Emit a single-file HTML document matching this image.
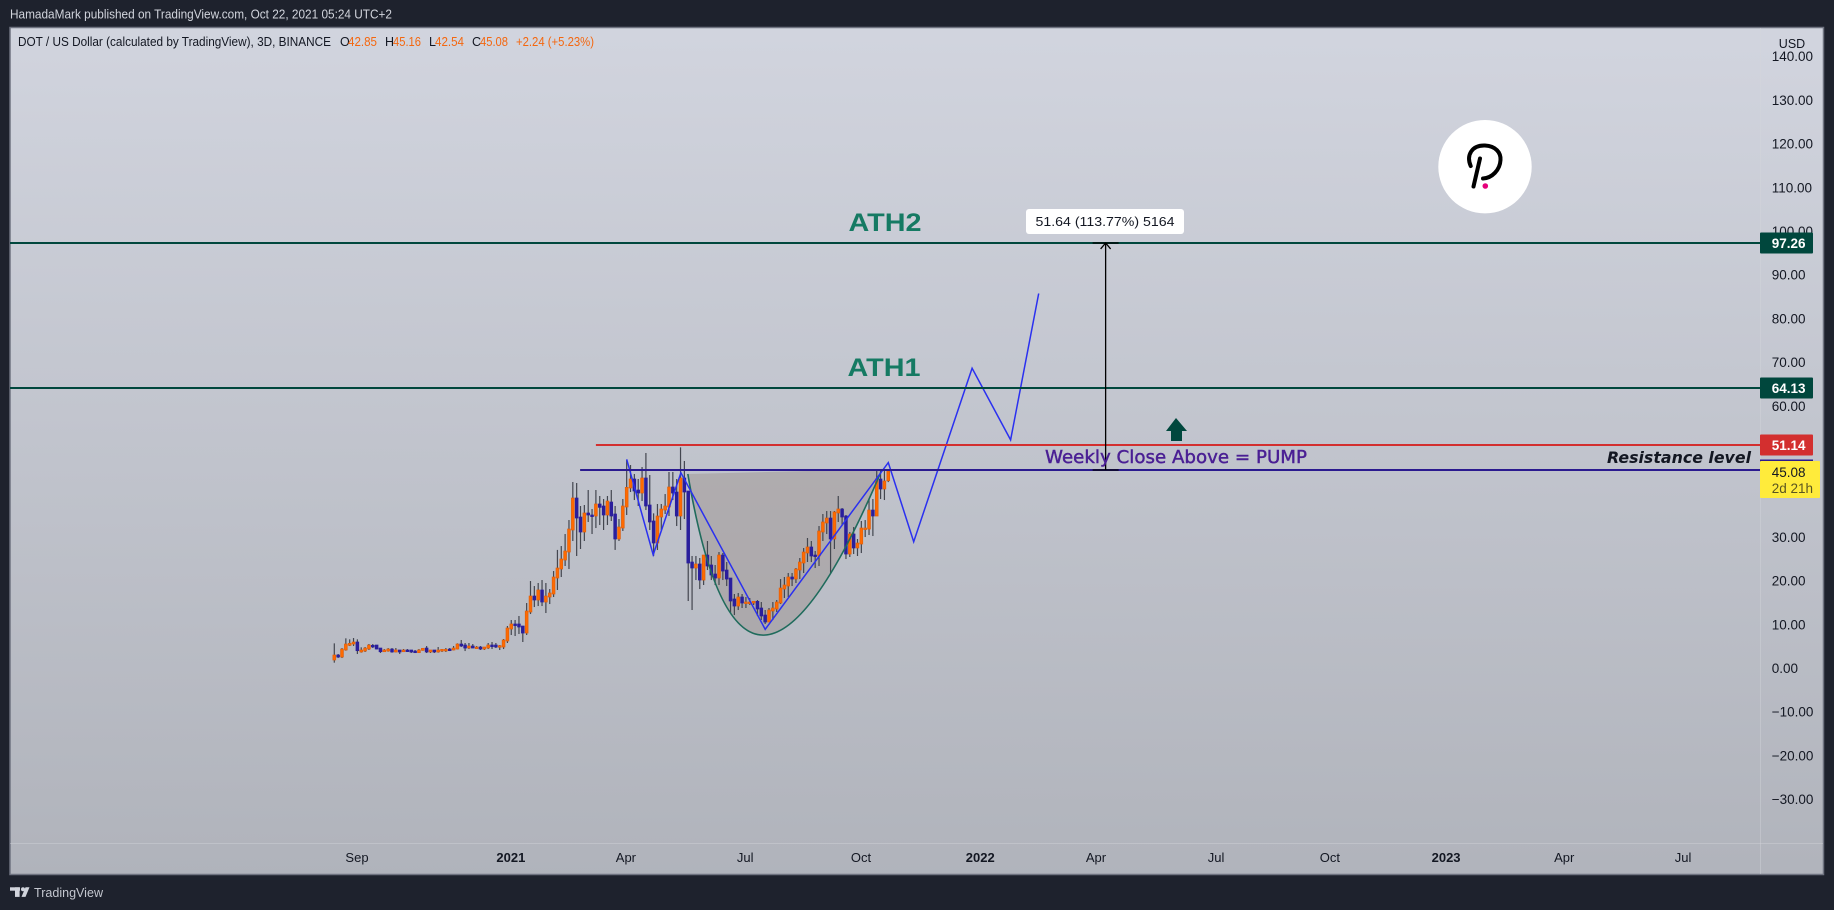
<!DOCTYPE html>
<html lang="en">
<head>
<meta charset="utf-8">
<title>DOT / US Dollar chart</title>
<style>
html,body{margin:0;padding:0;background:#1e222d;width:1834px;height:910px;overflow:hidden}
svg{display:block;font-family:"Liberation Sans",sans-serif}
</style>
</head>
<body>
<svg id="chart" xmlns="http://www.w3.org/2000/svg" width="1834" height="910" viewBox="0 0 1834 910">
  <defs>
    <linearGradient id="paneBg" x1="0.02" y1="0" x2="0" y2="1">
      <stop offset="0" stop-color="#d1d4de"/>
      <stop offset="1" stop-color="#b0b3bb"/>
    </linearGradient>
  </defs>
  <rect x="0" y="0" width="1834" height="910" fill="#1e222d"/>
  <text x="10" y="18.5" font-size="12.5" fill="#d1d4dc" textLength="382" lengthAdjust="spacingAndGlyphs">HamadaMark published on TradingView.com, Oct 22, 2021 05:24 UTC+2</text>
  <rect x="10" y="27.5" width="1813.5" height="847" fill="url(#paneBg)" stroke="#6f7380" stroke-width="1.5"/>
  <line x1="1760.5" y1="28" x2="1760.5" y2="874" stroke="#d4d6dd" stroke-opacity="0.4"/>
  <line x1="10" y1="843.5" x2="1823" y2="843.5" stroke="#d4d6dd" stroke-opacity="0.4"/>

  <g id="priceTicksLayer"></g>
  <g id="timeTicksLayer"></g>
  <path id="cupFill" fill="#9b918c" fill-opacity="0.45"/>
  <g id="candlesLayer"></g>
  <path id="cupLine" fill="none" stroke="#1f6b5c" stroke-width="1.6"/>
  <polyline id="forecastLine" fill="none" stroke="#2a30f0" stroke-width="1.5"/>
  <g id="levelsLayer"></g>

  <g id="measure" stroke="#000" stroke-width="1.3" fill="none"></g>
  <rect x="1026" y="209" width="158" height="25" rx="3" fill="#fff"/>
  <text x="1105" y="226" font-size="12.5" text-anchor="middle" fill="#131722" textLength="139" lengthAdjust="spacingAndGlyphs">51.64 (113.77%) 5164</text>

  <text x="885" y="231" font-size="25" font-weight="bold" text-anchor="middle" fill="#157a63" textLength="73" lengthAdjust="spacingAndGlyphs">ATH2</text>
  <text x="884" y="376" font-size="25" font-weight="bold" text-anchor="middle" fill="#157a63" textLength="73" lengthAdjust="spacingAndGlyphs">ATH1</text>
  <text x="1045" y="463" font-size="18" fill="#4a1f94" stroke="#4a1f94" stroke-width="0.45" font-family="'DejaVu Sans',sans-serif" textLength="262" lengthAdjust="spacingAndGlyphs">Weekly Close Above = PUMP</text>
  <text x="1607" y="463" font-size="16" font-weight="bold" font-style="italic" fill="#131722" font-family="'DejaVu Sans',sans-serif" textLength="144" lengthAdjust="spacingAndGlyphs">Resistance level</text>
  <polygon points="1176,418 1187,431 1182,431 1182,441 1171,441 1171,431 1166,431" fill="#00473d"/>

  <g>
    <circle cx="1485" cy="166.7" r="46.7" fill="#fff"/>
    <path d="M1470.7 166 C1466 155 1472 145 1485 145.5 C1496 146 1501 153 1500.5 160 C1500 170 1492 178 1483 178.5" fill="none" stroke="#000" stroke-width="4" stroke-linecap="round"/>
    <path d="M1480 158.5 L1473.5 186.5" fill="none" stroke="#000" stroke-width="4" stroke-linecap="round"/>
    <circle cx="1485.3" cy="186" r="2.8" fill="#e6007a"/>
  </g>

  <g font-size="12.5" fill="#131722">
    <text x="18" y="46" textLength="313" lengthAdjust="spacingAndGlyphs">DOT / US Dollar (calculated by TradingView), 3D, BINANCE</text>
    <text x="340" y="46">O</text><text x="348" y="46" fill="#f4670f" textLength="29" lengthAdjust="spacingAndGlyphs">42.85</text>
    <text x="385" y="46">H</text><text x="393" y="46" fill="#f4670f" textLength="28" lengthAdjust="spacingAndGlyphs">45.16</text>
    <text x="429" y="46">L</text><text x="435" y="46" fill="#f4670f" textLength="29" lengthAdjust="spacingAndGlyphs">42.54</text>
    <text x="472" y="46">C</text><text x="480" y="46" fill="#f4670f" textLength="28" lengthAdjust="spacingAndGlyphs">45.08</text>
    <text x="516" y="46" fill="#f4670f" textLength="78" lengthAdjust="spacingAndGlyphs">+2.24 (+5.23%)</text>
  </g>
  <text x="1792" y="48" font-size="12.5" text-anchor="middle" fill="#131722">USD</text>

  <g id="tagsLayer"></g>

  <g fill="#d1d4dc">
    <rect x="10" y="887.3" width="10" height="3.4"/>
    <rect x="15" y="887.3" width="4.6" height="9.6"/>
    <circle cx="23" cy="889.2" r="2"/>
    <polygon points="25.5,887.3 29.5,887.3 25.5,896.9 21.5,896.9"/>
  </g>
  <text x="34" y="897" font-size="13" fill="#c4c7cf" textLength="69" lengthAdjust="spacingAndGlyphs">TradingView</text>
</svg>
<script>
// ---- chart data (prices in USD, bars are 3-day candles) ----
const opens = [1.83,2.97,2.51,4.12,5.18,5.49,5.95,3.66,3.88,4.34,5.18,5.26,4.57,3.73,3.88,4.34,3.66,4.12,3.73,4.12,4.12,3.88,3.51,4.04,4.57,3.66,4.12,3.66,3.88,4.12,4.34,4.12,4.34,5.49,5.26,4.57,5.03,4.57,4.80,4.34,4.57,5.26,5.26,4.80,4.80,6.17,8.92,10.07,10.07,9.61,8.00,12.81,16.47,15.56,17.85,15.10,16.24,16.93,20.59,22.65,24.71,26.54,31.58,38.90,34.55,31.12,35.47,35.01,34.78,37.53,37.07,35.01,37.98,35.24,29.52,32.03,36.84,41.19,43.25,40.73,40.04,43.48,37.30,33.64,28.60,34.55,36.15,36.84,41.42,40.27,34.78,43.48,40.50,24.25,22.88,23.80,20.13,25.85,23.57,21.51,20.59,25.85,22.42,20.59,15.79,14.18,16.24,14.87,14.87,14.87,15.25,13.73,12.12,10.52,13.04,13.50,14.87,18.07,18.76,20.82,20.36,22.42,24.02,26.31,27.69,25.85,25.63,31.12,33.18,34.32,29.52,35.47,36.38,34.78,26.08,30.66,27.46,28.37,31.80,31.80,36.15,34.78,43.25,40.96,42.85];
const highs = [5.64,3.20,4.57,6.79,6.56,6.86,6.56,4.73,4.80,5.49,5.49,5.26,4.57,4.34,4.57,4.57,4.57,4.12,4.34,4.34,4.12,4.12,4.34,4.50,5.03,4.12,4.12,4.80,4.34,4.57,4.57,5.03,5.64,6.41,5.72,5.72,5.49,5.03,5.03,4.80,5.72,5.95,5.72,5.26,6.63,9.61,10.98,10.98,11.90,9.61,14.87,19.90,18.76,19.45,20.13,19.45,18.07,22.19,27.02,27.91,30.66,33.86,42.56,42.33,37.07,37.30,40.73,36.38,40.73,39.36,38.67,39.36,40.73,37.07,34.09,38.67,47.59,46.45,44.39,43.25,45.99,49.20,44.16,35.39,37.53,37.53,39.81,44.85,44.85,43.25,50.49,47.37,40.50,25.63,25.63,25.17,25.85,29.06,25.63,23.57,26.54,26.31,24.25,20.59,16.93,17.16,16.93,16.24,16.02,15.25,15.56,15.10,13.27,13.73,15.10,15.56,20.36,20.82,21.74,21.74,22.88,25.17,27.46,29.75,29.06,26.77,32.49,35.24,35.92,35.92,35.92,39.36,36.61,35.01,31.12,32.26,29.52,33.64,33.86,38.67,38.67,45.53,45.53,45.31,45.16];
const lows = [1.22,2.28,2.28,3.96,5.03,5.03,3.20,3.51,3.66,4.12,4.57,4.27,3.43,3.66,3.73,3.51,3.58,3.20,3.66,3.66,3.43,3.43,3.43,3.96,3.43,3.43,3.43,3.51,3.66,3.66,3.88,4.04,4.27,4.80,3.88,4.34,4.57,4.57,4.12,4.12,4.34,4.34,4.57,4.12,4.34,5.72,7.55,7.32,7.78,5.95,7.55,12.35,13.95,14.18,14.18,12.58,14.64,16.24,17.85,20.82,23.34,22.65,29.06,25.63,27.23,29.06,33.41,30.66,32.03,32.72,31.58,32.72,33.64,27.02,29.06,31.35,35.01,40.27,38.44,37.07,38.21,36.15,31.58,25.63,27.00,31.58,35.24,34.78,38.44,32.49,31.58,34.09,15.33,13.27,20.13,18.07,18.99,22.42,20.13,18.99,18.99,20.13,18.76,12.58,12.12,13.27,13.73,13.73,14.41,14.41,11.90,10.98,10.07,10.52,10.98,12.81,14.64,16.02,16.24,18.76,19.45,20.36,21.74,24.25,24.25,22.88,23.34,29.06,30.66,21.51,27.23,33.41,32.72,24.94,25.40,26.08,25.63,26.31,29.97,30.43,30.20,34.78,38.67,38.44,42.54];
const closes = [2.97,2.51,4.34,5.49,5.64,5.95,3.96,4.12,4.57,5.26,4.88,4.34,3.73,4.12,4.34,3.66,4.12,3.66,4.12,3.96,3.66,3.51,4.12,4.50,3.66,4.12,3.66,4.12,4.27,4.27,4.12,4.57,5.49,5.03,4.57,5.03,4.57,4.80,4.34,4.80,5.26,4.88,4.80,5.11,6.41,9.15,10.07,9.84,9.38,8.00,13.04,16.47,15.56,17.85,15.10,16.47,17.16,20.82,22.88,24.94,26.77,31.80,38.90,34.32,31.12,35.47,35.01,34.78,37.53,36.76,35.01,38.21,34.78,29.52,32.26,37.07,41.34,43.25,40.50,40.04,43.48,37.07,33.41,28.60,34.78,36.38,37.07,41.42,40.04,34.78,43.48,40.27,24.02,22.88,23.80,20.13,25.85,23.34,21.28,20.59,25.85,22.19,20.36,15.33,14.18,16.24,14.87,15.10,15.10,15.25,13.50,11.90,10.52,13.27,13.73,15.10,18.30,18.99,20.82,20.36,22.65,24.25,26.54,27.69,25.63,25.63,31.35,33.41,34.32,29.52,35.70,36.38,34.55,26.08,30.66,27.46,28.60,32.03,32.03,36.15,34.78,43.25,40.96,42.79,45.08];

const priceTicks = [140,130,120,110,100,90,80,70,60,50,40,30,20,10,0,-10,-20,-30];
const timeLabels = ["Sep","2021","Apr","Jul","Oct","2022","Apr","Jul","Oct","2023","Apr","Jul"];
const timeLabelBars = [5.9,45.9,75.8,106.8,136.9,167.9,198,229.2,258.8,289,319.7,350.6];
const yearLabels = ["2021","2022","2023"];

const forecastBars = [76,82.9,90.1,112,144,150.6,165.8,175.8,183.1];
const forecastPrices = [47.76,25.9,44.7,8.86,47,28.9,68.6,52.2,85.7];

const cupBars = [91.9,106.2,142.4];
const cupPrices = [44.4,-29.9,45.5];

const levelPrices = [97.26,64.13,51.14,45.3];
const levelStartBars = [-84.3,-84.3,68,63.9];
const levelNames = ["ath2","ath1","resistance","neckline"];
const levelColors = ["#00473d","#00473d","#d32f2f","#2a1a8f"];

const measureBar = 200.5;
const measureFrom = 45.31;
const measureTo = 97.26;

// ---- axis functions ----
const svgNS = "http://www.w3.org/2000/svg";
const xOf = b => 334.3 + 3.847 * b;
const yOf = p => 668 - 4.37 * p;
const make = (tag, parent) => { const n = document.createElementNS(svgNS, tag); parent.appendChild(n); return n; };

// price ticks
const pLayer = document.getElementById("priceTicksLayer");
priceTicks.forEach(v => {
  const t = make("text", pLayer);
  
  
  t.setAttribute("x", 1771.7);
  t.setAttribute("y", yOf(v) + 5);
  t.setAttribute("font-size", "13.5");
  t.setAttribute("fill", "#131722");
  t.textContent = (v < 0 ? "\u2212" : "") + Math.abs(v).toFixed(2);
});

// time ticks
const tLayer = document.getElementById("timeTicksLayer");
timeLabels.forEach((label, i) => {
  const t = make("text", tLayer);
  
  
  t.setAttribute("x", xOf(timeLabelBars[i]));
  t.setAttribute("y", 862);
  t.setAttribute("font-size", "13");
  t.setAttribute("text-anchor", "middle");
  t.setAttribute("fill", "#131722");
  if (yearLabels.includes(label)) t.setAttribute("font-weight", "bold");
  t.textContent = label;
});

// cup
const cupPts = cupBars.map((b, i) => [xOf(b), yOf(cupPrices[i])]);
const cupD = "M" + cupPts[0].join(" ") + " Q" + cupPts[1].join(" ") + " " + cupPts[2].join(" ");
document.getElementById("cupFill").setAttribute("d", cupD + " Z");
document.getElementById("cupLine").setAttribute("d", cupD);

// candles
const cLayer = document.getElementById("candlesLayer");
closes.forEach((c, i) => {
  const o = opens[i];
  const up = c >= o;
  const x = xOf(i);
  const g = make("g", cLayer);
  
  
  const wick = make("rect", g);
  wick.setAttribute("x", x - 0.6);
  wick.setAttribute("width", 1.2);
  wick.setAttribute("y", yOf(highs[i]));
  wick.setAttribute("height", Math.max(1, yOf(lows[i]) - yOf(highs[i])));
  wick.setAttribute("fill", "#43464f");
  const body = make("rect", g);
  const top = yOf(Math.max(o, c));
  const h = Math.max(1.6, Math.abs(yOf(o) - yOf(c)));
  body.setAttribute("x", x - 1.4);
  body.setAttribute("width", 2.8);
  body.setAttribute("y", top);
  body.setAttribute("height", h);
  body.setAttribute("fill", up ? "#ff6a00" : "#2a1f9c");
  body.setAttribute("stroke", up ? "#e0600c" : "#2a1f9c");
  body.setAttribute("stroke-width", "0.7");
});

// forecast
document.getElementById("forecastLine").setAttribute("points",
  forecastBars.map((b, i) => xOf(b).toFixed(1) + "," + yOf(forecastPrices[i]).toFixed(1)).join(" "));

// levels
const lLayer = document.getElementById("levelsLayer");
levelPrices.forEach((p, i) => {
  const l = make("rect", lLayer);
  
  
  const y = Math.round(yOf(p));
  const x = xOf(levelStartBars[i]);
  l.setAttribute("x", x);
  l.setAttribute("y", y - 1);
  l.setAttribute("width", 1760 - x);
  l.setAttribute("height", 2);
  l.setAttribute("fill", levelColors[i]);
  l.setAttribute("class", levelNames[i]);
});

// measure arrow
const mg = document.getElementById("measure");
const mx = xOf(measureBar), my1 = yOf(measureFrom), my2 = yOf(measureTo);
const shaft = make("path", mg);


shaft.setAttribute("d", "M" + mx + " " + my1 + "V" + my2 + "M" + (mx - 5) + " " + (my2 + 6) + "L" + mx + " " + my2 + "L" + (mx + 5) + " " + (my2 + 6));
const capTop = make("path", mg);


capTop.setAttribute("d", "M" + (mx - 13) + " " + my2 + "H" + (mx + 13));
const capBot = make("path", mg);


capBot.setAttribute("d", "M" + (mx - 13) + " " + my1 + "H" + (mx + 13));

// price tags
const tagLayer = document.getElementById("tagsLayer");
const tagColors = ["#00473d","#00473d","#d32f2f"];
levelPrices.slice(0, 3).forEach((p, i) => {
  const y = Math.round(yOf(p));
  const r = make("rect", tagLayer);
  
  
  r.setAttribute("x", 1760);
  r.setAttribute("y", y - 10.5);
  r.setAttribute("width", 53);
  r.setAttribute("height", 21);
  r.setAttribute("rx", 1);
  r.setAttribute("fill", tagColors[i]);
  const t = make("text", tagLayer);
  
  
  t.setAttribute("x", 1771.7);
  t.setAttribute("y", y + 5);
  t.setAttribute("font-size", "13.5");
  t.setAttribute("font-weight", "bold");
  t.setAttribute("fill", "#fff");
  t.textContent = p.toFixed(2);
});
// hidden neckline tag edge + current price tag
const edge = make("rect", tagLayer);


edge.setAttribute("x", 1760);
edge.setAttribute("y", 459.5);
edge.setAttribute("width", 53);
edge.setAttribute("height", 3);
edge.setAttribute("fill", "#2a1a8f");
const cur = make("rect", tagLayer);


cur.setAttribute("x", 1760);
cur.setAttribute("y", 461);
cur.setAttribute("width", 60);
cur.setAttribute("height", 37);
cur.setAttribute("rx", 1);
cur.setAttribute("fill", "#ffeb3b");
const curVal = make("text", tagLayer);


curVal.setAttribute("x", 1771.7);
curVal.setAttribute("y", 477);
curVal.setAttribute("font-size", "13.5");
curVal.setAttribute("fill", "#131722");
curVal.textContent = closes[closes.length - 1].toFixed(2);
const curCd = make("text", tagLayer);


curCd.setAttribute("x", 1771.7);
curCd.setAttribute("y", 493);
curCd.setAttribute("font-size", "13.5");
curCd.setAttribute("fill", "#5a5520");
curCd.textContent = "2d 21h";
</script>
</body>
</html>
